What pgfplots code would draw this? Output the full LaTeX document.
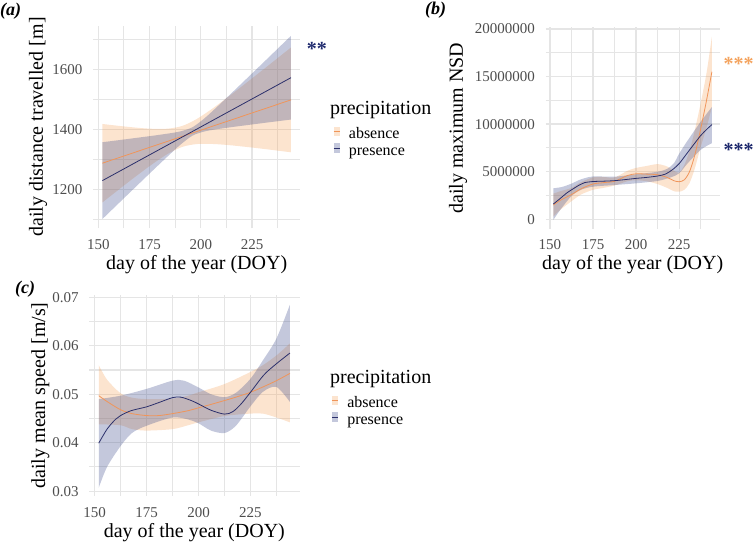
\documentclass[border=0pt]{standalone}
\usepackage{pgfplots}
\pgfplotsset{compat=1.18}
\usepgfplotslibrary{fillbetween}
\usepackage{fontspec}
\setmainfont{Liberation Serif}

\definecolor{absline}{HTML}{F0955A}
\definecolor{absfill}{HTML}{F4A460}
\definecolor{presline}{HTML}{2B2F6B}
\definecolor{presfill}{HTML}{3B4A8A}
\definecolor{gridc}{HTML}{E5E5E5}
\definecolor{tickc}{HTML}{4D4D4D}
\definecolor{astnavy}{HTML}{1F2A6E}
\definecolor{astorange}{HTML}{F4A460}

\pgfplotsset{
  panel/.style={
    scale only axis,
    anchor=south west,
    axis line style={draw=none},
    tick style={draw=none},
    major tick length=0pt, minor tick length=0pt,
    grid=both,
    major grid style={draw=gridc, line width=1.3bp},
    minor grid style={draw=gridc, line width=1.1bp},
    xmin=147.4, xmax=248.6,
    xtick={150,175,200,225}, xticklabels={150,175,200,225},
    minor xtick={162.5,187.5,212.5,237.5},
    scaled y ticks=false,
    tick label style={font=\fontsize{15bp}{18bp}\selectfont, text=tickc},
    x tick label style={anchor=base, yshift=-21bp, inner sep=0pt},
    y tick label style={anchor=east, xshift=-10.5bp, inner sep=0pt},
    label style={font=\fontsize{20bp}{24bp}\selectfont},
    xlabel={day of the year (DOY)},
    xlabel style={at={(axis description cs:0.5,0)}, anchor=base, yshift=-41bp, inner sep=0pt},
  },
  leg/.style={
    legend style={draw=none, fill=none, inner sep=0pt, outer sep=0pt,
      font=\fontsize{16bp}{19bp}\selectfont, row sep=0pt,
      nodes={inner sep=0pt, text height=11.5bp, text depth=4.5bp},
      /tikz/every odd column/.append style={column sep=9bp}},
    legend cell align=left,
  },
  absrib/.style={fill=absfill, fill opacity=0.3, draw=none, forget plot},
  presrib/.style={fill=presfill, fill opacity=0.3, draw=none, forget plot},
  absln/.style={absline, line width=0.8bp, forget plot, smooth},
  presln/.style={presline, line width=0.8bp, forget plot, smooth},
  bnd/.style={draw=none, forget plot, smooth},
  abskey/.style={legend image code/.code={\path[fill=absfill, fill opacity=0.3, draw=none] (0bp,-1bp) rectangle (6bp,8.3bp); \path[draw=absline, line width=0.6bp] (0bp,3.6bp) -- (6bp,3.6bp);}},
  preskey/.style={legend image code/.code={\path[fill=presfill, fill opacity=0.3, draw=none] (0bp,-1bp) rectangle (6bp,8.3bp); \path[draw=presline, line width=0.6bp] (0bp,3.6bp) -- (6bp,3.6bp);}},
}

\begin{document}
\begin{tikzpicture}
\path (0,0) rectangle (753bp,543bp);

% ---------------- panel (a)
\begin{axis}[panel, leg, at={(93bp,314.7bp)}, width=207.4bp, height=202.5bp,
  ymin=1070, ymax=1745, ytick={1200,1400,1600}, yticklabels={1200,1400,1600},
  minor ytick={1100,1300,1500,1700},
  ylabel={daily distance travelled [m]},
  ylabel style={at={(axis description cs:-0.265,0.5)}, anchor=center, inner sep=0pt},
  legend style={at={(axis description cs:1.1586,0.500)}, anchor=north west}]
\addplot[bnd, name path=aau] coordinates {(152,1417.7) (160,1411.4) (168,1405.8) (176,1401.8) (184,1402.1) (191,1411.4) (198,1434.2) (206,1470.6) (214,1511.3) (222,1553.6) (230,1596.6) (238,1640.0) (244,1672.7)};
\addplot[bnd, name path=aal] coordinates {(152,1156.3) (160,1199.2) (168,1241.6) (176,1282.2) (184,1318.7) (191,1341.4) (198,1350.8) (206,1351.0) (214,1347.1) (222,1341.4) (230,1335.2) (238,1328.4) (244,1323.3)};
\addplot[absrib] fill between[of=aau and aal];
\addplot[absln] coordinates {(152,1287) (244,1498)};
\addplot[bnd, name path=apu] coordinates {(152,1357) (160,1363.8) (168,1370.9) (176,1378.0) (184,1385.7) (190,1393.0) (196,1407.1) (202,1437.8) (208,1475.2) (216,1527.1) (224,1579.6) (232,1632.2) (240,1685.1) (244,1711.5)};
\addplot[bnd, name path=apl] coordinates {(152,1101) (160,1153.8) (168,1206.5) (176,1259.0) (184,1310.9) (190,1348.4) (196,1379.1) (202,1393.2) (208,1400.4) (216,1408.1) (224,1415.2) (232,1422.2) (240,1429.1) (244,1432.5)};
\addplot[presrib] fill between[of=apu and apl];
\addplot[presln] coordinates {(152,1229) (244,1572)};
\addlegendimage{abskey}
\addlegendentry{absence}
\addlegendimage{preskey}
\addlegendentry{presence}
\end{axis}

% ---------------- panel (b)
\begin{axis}[panel, at={(545.5bp,314bp)}, width=174.3bp, height=201.7bp,
  ymin=-1020000, ymax=20180000,
  ytick={0,5000000,10000000,15000000,20000000},
  yticklabels={0,5000000,10000000,15000000,20000000},
  minor ytick={2500000,7500000,12500000,17500000},
  ylabel={daily maximum NSD},
  ylabel style={at={(axis description cs:-0.502,0.5)}, anchor=center, inner sep=0pt}]
\addplot[bnd, name path=bau] coordinates {(152,2700000) (156,2950000) (162.5,3300000) (168,3900000) (175,4400000) (181,4450000) (187.5,4400000) (195,5100000) (200,5400000) (206,5600000) (212.5,5800000) (218,5550000) (222,5100000) (225,4900000) (228,5700000) (231,7200000) (234,9300000) (237.5,12200000) (241,15500000) (244,19200000)};
\addplot[bnd, name path=bal] coordinates {(152,300000) (156,1000000) (162.5,1900000) (168,2600000) (175,3100000) (181,3300000) (187.5,3550000) (195,4000000) (200,4100000) (206,4000000) (212.5,3700000) (218,3300000) (222,2950000) (225,2900000) (228,3100000) (231,3800000) (234,5300000) (237.5,7600000) (241,9700000) (244,11800000)};
\addplot[absrib] fill between[of=bau and bal];
\addplot[absln] coordinates {(152,1500000) (156,2000000) (162.5,2600000) (168,3200000) (175,3710000) (181,3850000) (187.5,4000000) (195,4600000) (200,4780000) (206,4750000) (212.5,4680000) (218,4400000) (222,4050000) (225,3950000) (228,4150000) (231,5000000) (234,6700000) (237.5,9500000) (241,12600000) (244,15500000)};
\addplot[bnd, name path=bpu] coordinates {(152,3260000) (157,3400000) (162.5,3750000) (168,4200000) (175,4500000) (187.5,4480000) (200,4730000) (212.5,5000000) (218,5300000) (222,5900000) (225,6900000) (230,8300000) (237.5,10260000) (244,11800000)};
\addplot[bnd, name path=bpl] coordinates {(152,-50000) (156,1000000) (162.5,2450000) (168,3100000) (175,3430000) (187.5,3600000) (200,3780000) (212.5,4030000) (220,4400000) (225,4830000) (230,5900000) (237.5,7300000) (244,8000000)};
\addplot[presrib] fill between[of=bpu and bpl];
\addplot[presln] coordinates {(152,1610000) (156,2200000) (160,2800000) (163,3150000) (167,3600000) (170,3850000) (175,3970000) (180,4000000) (187.5,4060000) (195,4200000) (200,4300000) (206,4400000) (212.5,4550000) (217,4750000) (221,5200000) (225,5850000) (229,6800000) (233,7750000) (237.5,8800000) (241,9450000) (244,9950000)};
\end{axis}

% ---------------- panel (c)
\begin{axis}[panel, leg, at={(89.2bp,47bp)}, width=210.3bp, height=201.1bp,
  ymin=0.029, ymax=0.0705,
  ytick={0.03,0.04,0.05,0.06,0.07}, yticklabels={0.03,0.04,0.05,0.06,0.07},
  minor ytick={0.035,0.045,0.055,0.065},
  ylabel={daily mean speed [m/s]},
  ylabel style={at={(axis description cs:-0.232,0.5)}, anchor=center, inner sep=0pt},
  legend style={at={(axis description cs:1.153,0.497)}, anchor=north west}]
\addplot[bnd, name path=cau] coordinates {(152,0.0560) (156,0.0530) (162.5,0.0502) (168,0.0493) (175,0.0490) (187.5,0.0491) (195,0.0497) (200,0.0504) (212.5,0.0521) (225,0.0546) (231,0.0560) (237.5,0.0580) (244,0.0605)};
\addplot[bnd, name path=cal] coordinates {(152,0.0438) (162.5,0.0436) (168,0.0428) (175,0.0425) (187.5,0.0428) (195,0.0436) (200,0.0442) (212.5,0.0455) (225,0.0460) (231,0.0460) (237.5,0.0452) (244,0.0442)};
\addplot[absrib] fill between[of=cau and cal];
\addplot[absln] coordinates {(152,0.0497) (156,0.0485) (162.5,0.0468) (168,0.0460) (175,0.0456) (181,0.0456) (187.5,0.0460) (195,0.0466) (200,0.0472) (206,0.0479) (212.5,0.0487) (218,0.0494) (225,0.0504) (231,0.0515) (237.5,0.0528) (244,0.0543)};
\addplot[bnd, name path=cpu] coordinates {(152,0.0490) (162.5,0.0497) (175,0.0511) (187.5,0.0528) (193,0.0528) (200,0.0514) (206,0.0500) (212.5,0.0494) (218,0.0503) (225,0.0532) (231,0.0570) (237.5,0.0615) (244,0.0685)};
\addplot[bnd, name path=cpl] coordinates {(152,0.0307) (156,0.0350) (162.5,0.0393) (168,0.0420) (175,0.0435) (187.5,0.0452) (195,0.0448) (200,0.0440) (206,0.0425) (212.5,0.0420) (218,0.0435) (225,0.0475) (231,0.0505) (237.5,0.0515) (244,0.0484)};
\addplot[presrib] fill between[of=cpu and cpl];
\addplot[presln] coordinates {(152,0.0399) (156,0.0428) (160,0.0448) (162.5,0.0456) (167.5,0.0466) (175,0.0474) (181,0.0483) (187.5,0.0493) (191.5,0.0494) (196.5,0.0487) (200,0.0480) (206,0.0467) (212.5,0.0459) (216.5,0.0464) (220.5,0.0480) (225,0.0504) (231.5,0.0540) (237.5,0.0563) (244,0.0585)};
\addlegendimage{abskey}
\addlegendentry{absence}
\addlegendimage{preskey}
\addlegendentry{presence}
\end{axis}

% ---------------- texts
\node[anchor=base west, inner sep=0pt, font=\fontsize{20bp}{24bp}\selectfont] at (330bp,428bp) {precipitation};
\node[anchor=base west, inner sep=0pt, font=\fontsize{20bp}{24bp}\selectfont] at (330bp,159bp) {precipitation};
\node[anchor=base west, inner sep=0pt, font=\bfseries\itshape\fontsize{18bp}{20bp}\selectfont] at (0bp,527bp) {(a)};
\node[anchor=base west, inner sep=0pt, font=\bfseries\itshape\fontsize{18bp}{20bp}\selectfont] at (425bp,528bp) {(b)};
\node[anchor=base west, inner sep=0pt, font=\bfseries\itshape\fontsize{18bp}{20bp}\selectfont] at (15bp,249.7bp) {(c)};
\node[anchor=base west, inner sep=0pt, text=astnavy, font=\bfseries\fontsize{20bp}{24bp}\selectfont] at (306.7bp,487.7bp) {**};
\node[anchor=base west, inner sep=0pt, text=astorange, font=\bfseries\fontsize{20bp}{24bp}\selectfont] at (723.3bp,472bp) {***};
\node[anchor=base west, inner sep=0pt, text=astnavy, font=\bfseries\fontsize{20bp}{24bp}\selectfont] at (723.3bp,386.2bp) {***};
\pgfresetboundingbox
\useasboundingbox (0,0) rectangle (753bp,543bp);
\end{tikzpicture}
\end{document}
